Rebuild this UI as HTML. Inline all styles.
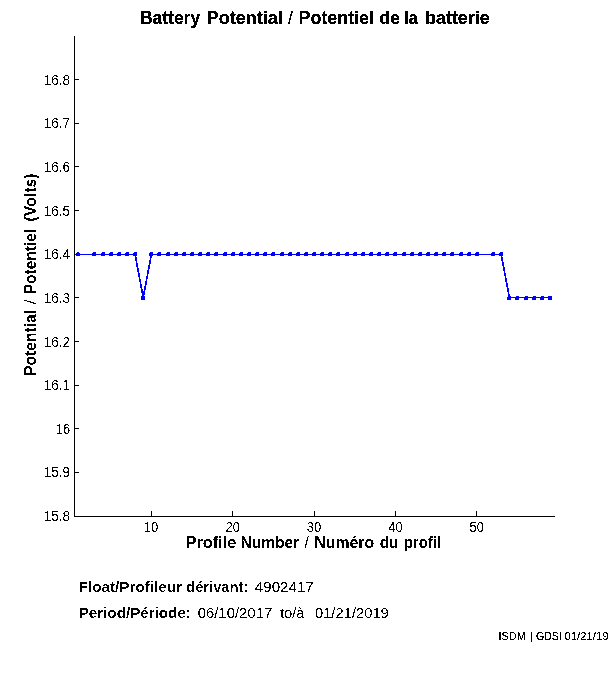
<!DOCTYPE html>
<html><head><meta charset="utf-8"><title>Battery Potential / Potentiel de la batterie</title>
<style>
html,body{margin:0;padding:0;background:#fff;}
body{width:611px;height:675px;overflow:hidden;font-family:"Liberation Sans",sans-serif;}
svg{display:block;}
text{font-family:"Liberation Sans",sans-serif;fill:#000;}
</style></head><body>
<svg width="611" height="675" viewBox="0 0 611 675">
<defs><filter id="f-title" x="0" y="0" width="611" height="675" filterUnits="userSpaceOnUse" color-interpolation-filters="sRGB"><feComponentTransfer><feFuncA type="discrete" tableValues="0 0 0 0 0 0 0 1 1 1 1 1 1 1 1 1 1 1 1 1"/></feComponentTransfer></filter><filter id="f-axlab" x="0" y="0" width="611" height="675" filterUnits="userSpaceOnUse" color-interpolation-filters="sRGB"><feComponentTransfer><feFuncA type="discrete" tableValues="0 0 0 0 0 0 0 0 0 0 1 1 1 1 1 1 1 1 1 1"/></feComponentTransfer></filter><filter id="f-botbold" x="0" y="0" width="611" height="675" filterUnits="userSpaceOnUse" color-interpolation-filters="sRGB"><feComponentTransfer><feFuncA type="discrete" tableValues="0 0 0 0 0 0 0 0 0 0 0 1 1 1 1 1 1 1 1 1"/></feComponentTransfer></filter><filter id="f-norm" x="0" y="0" width="611" height="675" filterUnits="userSpaceOnUse" color-interpolation-filters="sRGB"><feComponentTransfer><feFuncA type="discrete" tableValues="0 0 0 0 0 0 0 0 0 0 1 1 1 1 1 1 1 1 1 1"/></feComponentTransfer></filter><filter id="f-small" x="0" y="0" width="611" height="675" filterUnits="userSpaceOnUse" color-interpolation-filters="sRGB"><feComponentTransfer><feFuncA type="discrete" tableValues="0 0 0 0 0 0 0 0 1 1 1 1 1 1 1 1 1 1 1 1"/></feComponentTransfer></filter><filter id="f-line" x="0" y="0" width="611" height="675" filterUnits="userSpaceOnUse" color-interpolation-filters="sRGB"><feComponentTransfer><feFuncA type="discrete" tableValues="0 0 0 0 0 0 0 0 0 0 1 1 1 1 1 1 1 1 1 1"/></feComponentTransfer></filter></defs>
<rect width="611" height="675" fill="#fff"/>
<g fill="#000" shape-rendering="crispEdges">
<rect x="74" y="36" width="1" height="481"/>
<rect x="74" y="516" width="481" height="1"/>
<rect x="75" y="472" width="4" height="1"/><rect x="75" y="428" width="4" height="1"/><rect x="75" y="385" width="4" height="1"/><rect x="75" y="341" width="4" height="1"/><rect x="75" y="297" width="4" height="1"/><rect x="75" y="254" width="4" height="1"/><rect x="75" y="210" width="4" height="1"/><rect x="75" y="166" width="4" height="1"/><rect x="75" y="123" width="4" height="1"/><rect x="75" y="79" width="4" height="1"/><rect x="151" y="511" width="1" height="5"/><rect x="232" y="511" width="1" height="5"/><rect x="314" y="511" width="1" height="5"/><rect x="395" y="511" width="1" height="5"/><rect x="476" y="511" width="1" height="5"/>
</g>
<g filter="url(#f-title)">
<text x="139.88" y="24.0" font-size="18.0" font-weight="bold" textLength="60.28" lengthAdjust="spacingAndGlyphs">Battery</text>
<text x="206.75" y="24.0" font-size="18.0" font-weight="bold" textLength="76.00" lengthAdjust="spacingAndGlyphs">Potential</text>
<text x="287.90" y="24.0" font-size="18.0" textLength="4.80" lengthAdjust="spacingAndGlyphs">/</text>
<text x="298.56" y="24.0" font-size="18.0" font-weight="bold" textLength="75.49" lengthAdjust="spacingAndGlyphs">Potentiel</text>
<text x="379.55" y="24.0" font-size="18.0" font-weight="bold" textLength="20.31" lengthAdjust="spacingAndGlyphs">de</text>
<text x="404.24" y="24.0" font-size="18.0" font-weight="bold" textLength="13.71" lengthAdjust="spacingAndGlyphs">la</text>
<text x="424.95" y="24.0" font-size="18.0" font-weight="bold" textLength="64.91" lengthAdjust="spacingAndGlyphs">batterie</text>
</g>
<g filter="url(#f-axlab)">
<text x="185.57" y="548.0" font-size="16.7" font-weight="bold" textLength="50.65" lengthAdjust="spacingAndGlyphs">Profile</text>
<text x="240.52" y="548.0" font-size="16.7" font-weight="bold" textLength="58.56" lengthAdjust="spacingAndGlyphs">Number</text>
<text x="304.60" y="548.0" font-size="16.7" textLength="4.36" lengthAdjust="spacingAndGlyphs">/</text>
<text x="314.30" y="548.0" font-size="16.7" font-weight="bold" textLength="59.83" lengthAdjust="spacingAndGlyphs">Numéro</text>
<text x="379.65" y="548.0" font-size="16.7" font-weight="bold" textLength="18.88" lengthAdjust="spacingAndGlyphs">du</text>
<text x="403.64" y="548.0" font-size="16.7" font-weight="bold" textLength="37.78" lengthAdjust="spacingAndGlyphs">profil</text>
<text transform="rotate(-90)" x="-376.04" y="36.0" font-size="16.7" font-weight="bold" textLength="66.24" lengthAdjust="spacingAndGlyphs">Potential</text>
<text transform="rotate(-90)" x="-304.20" y="36.0" font-size="16.7" textLength="4.82" lengthAdjust="spacingAndGlyphs">/</text>
<text transform="rotate(-90)" x="-294.23" y="36.0" font-size="16.7" font-weight="bold" textLength="65.42" lengthAdjust="spacingAndGlyphs">Potentiel</text>
<text transform="rotate(-90)" x="-221.40" y="36.0" font-size="16.7" font-weight="bold" textLength="47.93" lengthAdjust="spacingAndGlyphs">(Volts)</text>
</g>
<g filter="url(#f-norm)">
<text x="254.85" y="592.0" font-size="15.3" textLength="58.90" lengthAdjust="spacingAndGlyphs">4902417</text>
<text x="197.65" y="617.6" font-size="15.3" textLength="74.59" lengthAdjust="spacingAndGlyphs">06/10/2017</text>
<text x="280.15" y="617.6" font-size="15.3" textLength="24.23" lengthAdjust="spacingAndGlyphs">to/à</text>
<text x="314.95" y="617.6" font-size="15.3" textLength="73.89" lengthAdjust="spacingAndGlyphs">01/21/2019</text>
<text x="43.68" y="521.0" font-size="14.0" textLength="26.46" lengthAdjust="spacingAndGlyphs">15.8</text>
<text x="43.68" y="477.0" font-size="14.0" textLength="26.46" lengthAdjust="spacingAndGlyphs">15.9</text>
<text x="55.72" y="434.0" font-size="14.0" textLength="14.43" lengthAdjust="spacingAndGlyphs">16</text>
<text x="43.68" y="390.0" font-size="14.0" textLength="26.46" lengthAdjust="spacingAndGlyphs">16.1</text>
<text x="43.68" y="347.0" font-size="14.0" textLength="26.46" lengthAdjust="spacingAndGlyphs">16.2</text>
<text x="43.68" y="303.0" font-size="14.0" textLength="26.46" lengthAdjust="spacingAndGlyphs">16.3</text>
<text x="43.68" y="259.0" font-size="14.0" textLength="26.46" lengthAdjust="spacingAndGlyphs">16.4</text>
<text x="43.68" y="216.0" font-size="14.0" textLength="26.46" lengthAdjust="spacingAndGlyphs">16.5</text>
<text x="43.68" y="172.0" font-size="14.0" textLength="26.46" lengthAdjust="spacingAndGlyphs">16.6</text>
<text x="43.68" y="128.0" font-size="14.0" textLength="26.46" lengthAdjust="spacingAndGlyphs">16.7</text>
<text x="43.68" y="85.0" font-size="14.0" textLength="26.46" lengthAdjust="spacingAndGlyphs">16.8</text>
<text x="143.68" y="532.0" font-size="14.0" textLength="14.53" lengthAdjust="spacingAndGlyphs">10</text>
<text x="225.47" y="532.0" font-size="14.0" textLength="14.40" lengthAdjust="spacingAndGlyphs">20</text>
<text x="306.83" y="532.0" font-size="14.0" textLength="14.40" lengthAdjust="spacingAndGlyphs">30</text>
<text x="388.19" y="532.0" font-size="14.0" textLength="14.40" lengthAdjust="spacingAndGlyphs">40</text>
<text x="469.55" y="532.0" font-size="14.0" textLength="14.40" lengthAdjust="spacingAndGlyphs">50</text>
</g>
<g filter="url(#f-botbold)">
<text x="78.65" y="592.0" font-size="15.3" font-weight="bold" textLength="103.45" lengthAdjust="spacingAndGlyphs">Float/Profileur</text>
<text x="186.15" y="592.0" font-size="15.3" font-weight="bold" textLength="62.15" lengthAdjust="spacingAndGlyphs">dérivant:</text>
<text x="78.66" y="617.6" font-size="15.3" font-weight="bold" textLength="112.28" lengthAdjust="spacingAndGlyphs">Period/Période:</text>
</g>
<g filter="url(#f-small)">
<text x="498.58" y="640.0" font-size="11.2" textLength="27.08" lengthAdjust="spacingAndGlyphs">ISDM</text>
<text x="529.50" y="640.0" font-size="11.2" textLength="4.07" lengthAdjust="spacingAndGlyphs">|</text>
<text x="535.95" y="640.0" font-size="11.2" textLength="25.80" lengthAdjust="spacingAndGlyphs">GDSI</text>
<text x="564.45" y="640.0" font-size="11.2" textLength="44.12" lengthAdjust="spacingAndGlyphs">01/21/19</text>
</g>

<g filter="url(#f-line)">
<polyline points="74.50,254.50 78.14,254.50 94.41,254.50 102.55,254.50 110.68,254.50 118.82,254.50 126.95,254.50 135.09,254.50 143.23,297.50 151.36,254.50 159.50,254.50 167.63,254.50 175.77,254.50 183.91,254.50 192.04,254.50 200.18,254.50 208.31,254.50 216.45,254.50 224.59,254.50 232.72,254.50 240.86,254.50 248.99,254.50 257.13,254.50 265.27,254.50 273.40,254.50 281.54,254.50 289.67,254.50 297.81,254.50 305.95,254.50 314.08,254.50 322.22,254.50 330.35,254.50 338.49,254.50 346.63,254.50 354.76,254.50 362.90,254.50 371.03,254.50 379.17,254.50 387.31,254.50 395.44,254.50 403.58,254.50 411.71,254.50 419.85,254.50 427.99,254.50 436.12,254.50 444.26,254.50 452.39,254.50 460.53,254.50 468.67,254.50 476.80,254.50 493.07,254.50 501.21,254.50 509.35,297.50 517.48,297.50 525.62,297.50 533.75,297.50 541.89,297.50 550.03,297.50" fill="none" stroke="#0000ff" stroke-width="1" stroke-linejoin="round"/>
<g stroke="#0000ff" stroke-width="1.5" stroke-linecap="round"><line x1="135.09" y1="254.5" x2="143.23" y2="297.5"/><line x1="143.23" y1="297.5" x2="151.36" y2="254.5"/><line x1="501.21" y1="254.5" x2="509.35" y2="297.5"/></g>
<g fill="#0000ff" shape-rendering="crispEdges"><path d="M77,252h2v1h1v3h-4v-3h1z"/><path d="M93,252h3v4h-4v-3h1z"/><path d="M102,252h3v4h-4v-3h1z"/><path d="M110,252h3v4h-4v-3h1z"/><path d="M118,252h3v4h-4v-3h1z"/><path d="M126,252h3v4h-4v-3h1z"/><path d="M134,252h3v4h-4v-3h1z"/><rect x="141" y="296" width="4" height="4"/><path d="M150,252h3v4h-4v-3h1z"/><path d="M158,252h3v4h-4v-3h1z"/><path d="M167,252h3v4h-4v-3h1z"/><path d="M175,252h3v4h-4v-3h1z"/><path d="M183,252h3v4h-4v-3h1z"/><path d="M191,252h3v4h-4v-3h1z"/><path d="M199,252h3v4h-4v-3h1z"/><path d="M207,252h3v4h-4v-3h1z"/><path d="M215,252h3v4h-4v-3h1z"/><path d="M224,252h3v4h-4v-3h1z"/><path d="M232,252h3v4h-4v-3h1z"/><path d="M240,252h3v4h-4v-3h1z"/><path d="M248,252h3v4h-4v-3h1z"/><path d="M256,252h3v4h-4v-3h1z"/><path d="M264,252h3v4h-4v-3h1z"/><path d="M272,252h3v4h-4v-3h1z"/><path d="M281,252h3v4h-4v-3h1z"/><path d="M289,252h3v4h-4v-3h1z"/><path d="M297,252h3v4h-4v-3h1z"/><path d="M305,252h3v4h-4v-3h1z"/><path d="M313,252h3v4h-4v-3h1z"/><path d="M321,252h3v4h-4v-3h1z"/><path d="M329,252h3v4h-4v-3h1z"/><path d="M337,252h3v4h-4v-3h1z"/><path d="M346,252h3v4h-4v-3h1z"/><path d="M354,252h3v4h-4v-3h1z"/><path d="M362,252h3v4h-4v-3h1z"/><path d="M370,252h3v4h-4v-3h1z"/><path d="M378,252h3v4h-4v-3h1z"/><path d="M386,252h3v4h-4v-3h1z"/><path d="M394,252h3v4h-4v-3h1z"/><path d="M403,252h3v4h-4v-3h1z"/><path d="M411,252h3v4h-4v-3h1z"/><path d="M419,252h3v4h-4v-3h1z"/><path d="M427,252h3v4h-4v-3h1z"/><path d="M435,252h3v4h-4v-3h1z"/><path d="M443,252h3v4h-4v-3h1z"/><path d="M451,252h3v4h-4v-3h1z"/><path d="M460,252h3v4h-4v-3h1z"/><path d="M468,252h3v4h-4v-3h1z"/><path d="M476,252h3v4h-4v-3h1z"/><path d="M492,252h3v4h-4v-3h1z"/><path d="M500,252h3v4h-4v-3h1z"/><path d="M508,296h3v4h-4v-3h1z"/><path d="M516,296h3v4h-4v-3h1z"/><path d="M525,296h3v4h-4v-3h1z"/><path d="M533,296h3v4h-4v-3h1z"/><path d="M541,296h3v4h-4v-3h1z"/><rect x="548" y="296" width="4" height="4"/></g>
</g>
</svg>
</body></html>
